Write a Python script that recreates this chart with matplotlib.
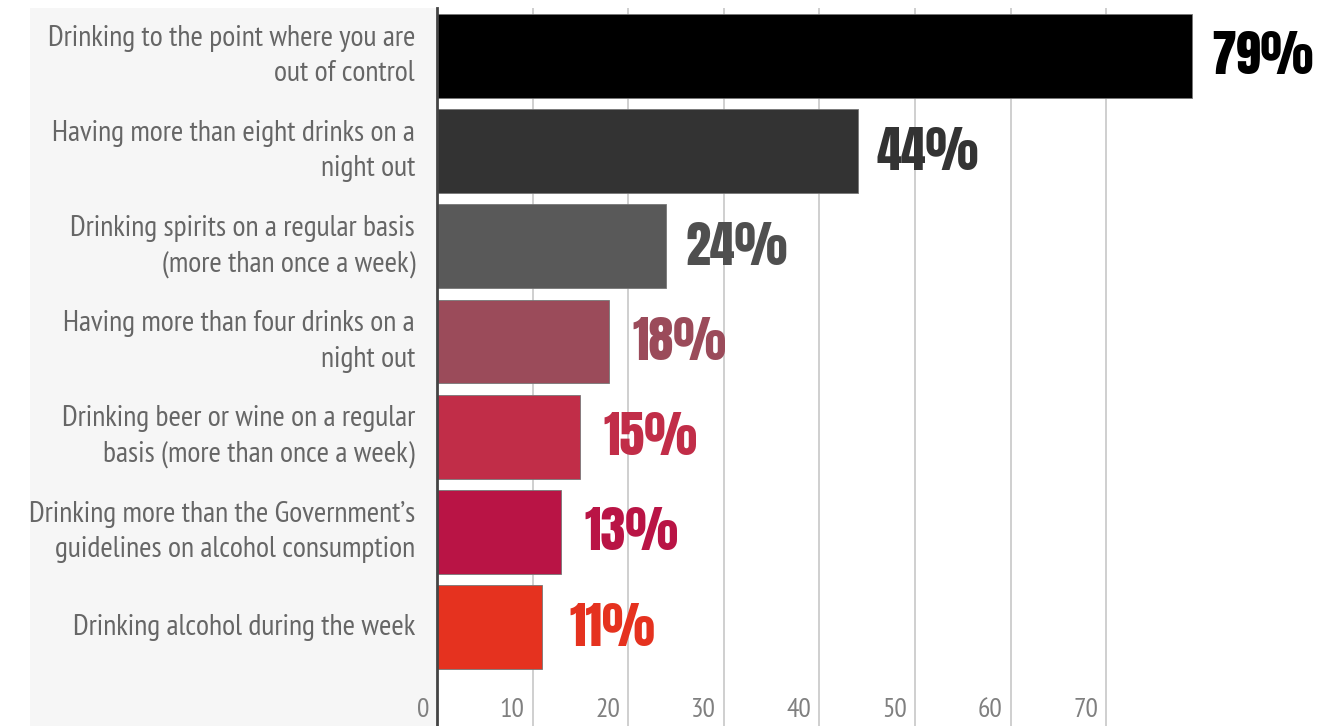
import matplotlib
matplotlib.use("Agg")
import matplotlib.pyplot as plt
from matplotlib.transforms import blended_transform_factory, offset_copy
from matplotlib.patches import Rectangle

categories = [
    "Drinking to the point where you are\nout of control",
    "Having more than eight drinks on a\nnight out",
    "Drinking spirits on a regular basis\n(more than once a week)",
    "Having more than four drinks on a\nnight out",
    "Drinking beer or wine on a regular\nbasis (more than once a week)",
    "Drinking more than the Government\u2019s\nguidelines on alcohol consumption",
    "Drinking alcohol during the week",
]
values = [79, 44, 24, 18, 15, 13, 11]
bar_colors = ["#000000", "#333333", "#595959", "#9b4b5a", "#c12d48", "#b91445", "#e5321f"]
label_colors = ["#000000", "#333333", "#4f4f4f", "#9b4b5a", "#c12d48", "#b91445", "#e5321f"]
xticks = [0, 10, 20, 30, 40, 50, 60, 70]

narrow = ["PT Sans Narrow", "Archivo Narrow", "DejaVu Sans"]
impact = ["Anton", "Oswald", "DejaVu Sans"]

W, H = 1339, 726
fig = plt.figure(figsize=(W / 100, H / 100), dpi=100)
fig.patch.set_facecolor("white")

# faint label panel behind everything
bg = fig.add_axes([0, 0, 1, 1], zorder=-5)
bg.set_xlim(0, W)
bg.set_ylim(H, 0)
bg.axis("off")
bg.add_patch(Rectangle((30, 8), 437 - 30, H - 8, facecolor="#f6f6f6", edgecolor="none"))

ax = fig.add_axes([437 / W, 0, 1 - 437 / W, (H - 8) / H])
ax.set_facecolor("none")
xmax = (W - 437) / 9.56
ax.set_xlim(0, xmax)
ypitch = 95.2
ax.set_ylim(6 + (726 - 627) / ypitch, -(56 - 8) / ypitch)

for x in xticks[1:]:
    ax.axvline(x, color="#cccccc", lw=1.3, zorder=1)

y = list(range(len(values)))
ax.barh(y, values, height=0.88, color=bar_colors, edgecolor="#777777", linewidth=0.6, zorder=2)

for yi, v, c in zip(y, values, label_colors):
    t = offset_copy(ax.transData, fig=fig, x=70, y=0, units="dots")
    ax.text(v, yi, f"{v}%", transform=t, ha="center", va="center", fontsize=36,
            color=c, family=impact, zorder=3)

for yi, cat in zip(y, categories):
    t = offset_copy(ax.transData, fig=fig, x=-22, y=0, units="dots")
    ax.text(0, yi, cat, transform=t, ha="right", va="center", fontsize=21.5,
            color="#666666", family=narrow, linespacing=1.4, clip_on=False)

tb = blended_transform_factory(ax.transData, ax.transAxes)
for x in xticks:
    t = offset_copy(tb, fig=fig, x=-8, y=0, units="dots")
    ax.text(x, 0.022, str(x), transform=t, ha="right", va="center", fontsize=20,
            color="#808080", family=narrow)

ax.set_xticks([])
ax.set_yticks([])
for s in ("top", "right", "bottom"):
    ax.spines[s].set_visible(False)
ax.spines["left"].set_color("#444444")
ax.spines["left"].set_linewidth(2)

fig.savefig("out.png", dpi=100)
